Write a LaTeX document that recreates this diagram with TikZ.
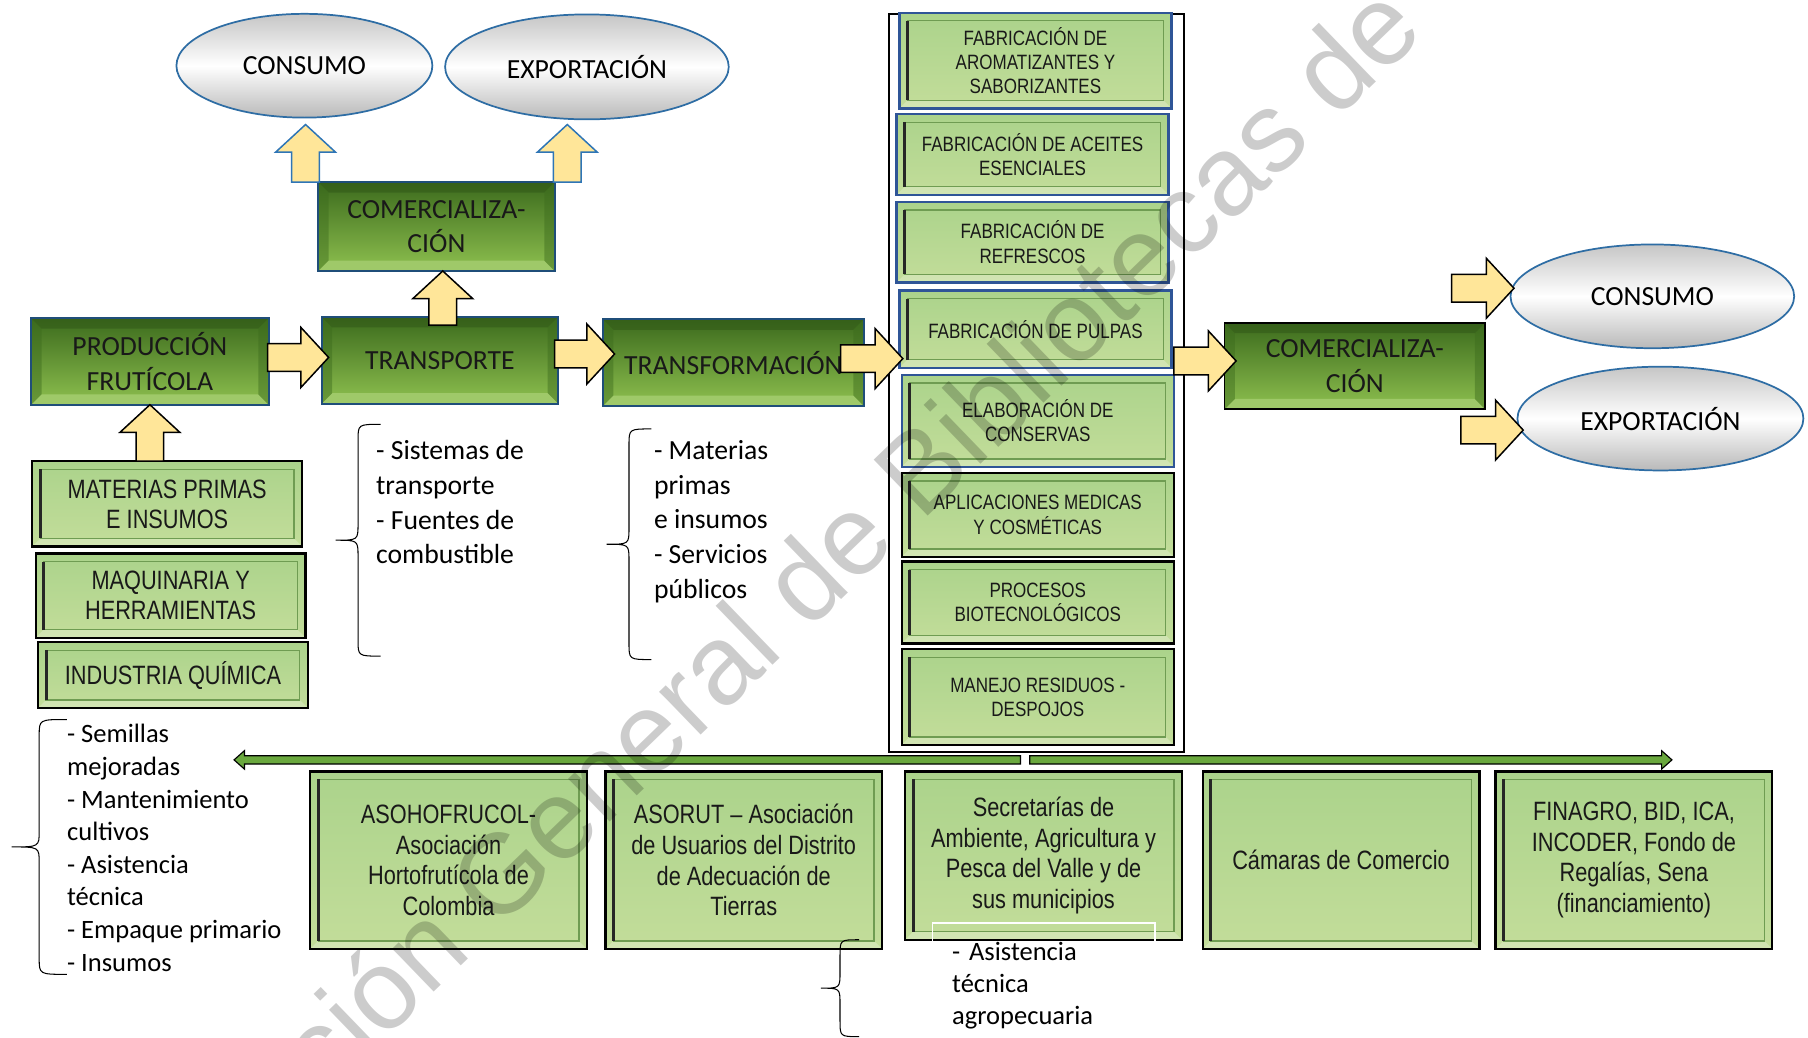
\documentclass[tikz,border=0pt]{standalone}
\usepackage{fontspec}
\setmainfont{Carlito}
\newfontfamily\narrowfont[FakeStretch=0.82]{Liberation Sans}
\newfontfamily\markfont{Liberation Sans}
\usetikzlibrary{backgrounds,calc,positioning,shapes.geometric}

\definecolor{boxblue}{HTML}{1F4E79}
\definecolor{colblue}{HTML}{2F5597}
\definecolor{ovalblue}{HTML}{2E6DA4}
\definecolor{dgtop}{HTML}{3C6B1D}
\definecolor{dgbot}{HTML}{8EC04F}
\definecolor{lgtop}{HTML}{ABD38B}
\definecolor{lgbot}{HTML}{C3DD9A}
\definecolor{lgline}{HTML}{6F9C52}
\definecolor{arrowfill}{HTML}{FFE699}
\definecolor{arrowblue}{HTML}{2E75B6}
\definecolor{bargreen}{HTML}{6AA83E}

\tikzset{%
	darkbevel/.style = {path picture={
		\path (path picture bounding box.south west) coordinate (p1)
		      (path picture bounding box.north east) coordinate (p3);
		\path ([shift={(9pt,9pt)}]p1) coordinate (q1)
		      ([shift={(-9pt,-9pt)}]p3) coordinate (q3);
		\fill[dgtop!80!black, opacity=0.5] (p1 |- p3) -- (p3) -- (q3) -- (q1 |- q3) -- cycle;
		\fill[dgbot!85!white] (p1) -- (p3 |- p1) -- (q3 |- q1) -- (q1) -- cycle;
		\fill[dgtop, opacity=0.45] (p1) -- (q1) -- (q1 |- q3) -- (p1 |- p3) -- cycle;
		\fill[dgtop, opacity=0.45] (p3 |- p1) -- (q3 |- q1) -- (q3) -- (p3) -- cycle;}},
	lightbevel/.style = {path picture={
		\path (path picture bounding box.south west) coordinate (p1)
		      (path picture bounding box.north east) coordinate (p3);
		\path ([shift={(7pt,7pt)}]p1) coordinate (q1)
		      ([shift={(-7pt,-7pt)}]p3) coordinate (q3);
		\fill[white, opacity=0.25] (p1) -- (p3 |- p1) -- (q3 |- q1) -- (q1) -- cycle;
		\draw[lgline, line width=1.2pt] (q1) rectangle (q3);
		\draw[black!85, line width=2.6pt] (q1) -- (q1 |- q3);}},
	darkbox/.style  = {rectangle, draw=#1, line width=1.6pt, outer sep=0pt, top color=dgtop, bottom color=dgbot, minimum height=75pt, inner sep=2pt, align=center, text=black!90, font=\fontsize{24}{30}\selectfont, darkbevel},
	darkbox/.default = boxblue,
	lightbox/.style = {rectangle, draw=#1, line width=2pt, outer sep=0pt, top color=lgtop, bottom color=lgbot, inner sep=2pt, align=center, text=black!90, lightbevel},
	lightbox/.default = black,
	colbox/.style   = {lightbox=#1, minimum width=236pt, font=\narrowfont\fontsize{18}{21}\selectfont},
	colbox/.default = colblue,
	sidebox/.style  = {lightbox, minimum width=234pt, font=\narrowfont\fontsize{23}{26}\selectfont},
	actor/.style    = {lightbox, minimum width=240pt, minimum height=154pt, font=\narrowfont\fontsize{23}{26.5}\selectfont},
	oval/.style     = {ellipse, draw=ovalblue, line width=1.5pt, top color=gray!45, bottom color=gray!55, middle color=white, inner sep=0pt, outer sep=0pt, font=\fontsize{24}{30}\selectfont},
	listtext/.style = {align=left, inner sep=0pt, anchor=north west},
	yarrow/.style   = {fill=arrowfill, draw=#1, line width=1.3pt, /utils/exec={\def\sw{12pt}\def\hw{26pt}\def\hl{24pt}}},
	yarrow/.default = black,
	gbar/.style     = {fill=bargreen, draw=black, line width=1pt, /utils/exec={\def\sw{3.6pt}\def\hw{8pt}\def\hl{9pt}}},
	bracepath/.style = {draw, line width=0.9pt},
	watermark/.style = {font=\markfont\fontsize{98}{98}\selectfont, text=black, text opacity=0.2, inner sep=0pt},
}

% block arrows: start, tip (the tip keeps the start's line)
\newcommand{\harrow}[3][yarrow]{%
	\path[#1] let \p1=#2, \p2=#3, \n1={sign(\x2-\x1)} in
		(\x1,\y1+\sw) -- ({\x2-(\n1)*\hl},\y1+\sw) -- ({\x2-(\n1)*\hl},\y1+\hw) -- (\x2,\y1)
		-- ({\x2-(\n1)*\hl},\y1-\hw) -- ({\x2-(\n1)*\hl},\y1-\sw) -- (\x1,\y1-\sw) -- cycle;}
\newcommand{\varrow}[3][yarrow]{%
	\path[#1] let \p1=#2, \p2=#3, \n1={sign(\y2-\y1)} in
		(\x1+\sw,\y1) -- (\x1+\sw,{\y2-(\n1)*\hl}) -- (\x1+\hw,{\y2-(\n1)*\hl}) -- (\x1,\y2)
		-- (\x1-\hw,{\y2-(\n1)*\hl}) -- (\x1-\sw,{\y2-(\n1)*\hl}) -- (\x1-\sw,\y1) -- cycle;}
% curly brace: hook x, tip x, top y, bottom y
\newcommand{\curlybrace}[4]{%
	\draw[bracepath] let \n1={(#1+#2)/2}, \n2={(#3+#4)/2} in
		(#1,#3) .. controls (\n1,#3) .. (\n1,#3+14) -- (\n1,\n2-14)
		.. controls (\n1,\n2) .. (#2,\n2) .. controls (\n1,\n2) .. (\n1,\n2+14)
		-- (\n1,#4-14) .. controls (\n1,#4) .. (#1,#4);}

\begin{document}
\begin{tikzpicture}[x=1pt, y=-1pt]
	\useasboundingbox (0,0) rectangle (1568,900);

	% main chain
	\node[oval, minimum width=222pt, minimum height=90pt] (cons1) at (264,57) {CONSUMO};
	\node[oval, minimum width=246pt, minimum height=91pt] (expo1) at (509,58) {EXPORTACIÓN};
	\node[darkbox, minimum width=205pt, minimum height=77pt] (com1) at (378.5,196.5) {COMERCIALIZA-\\CIÓN};
	\node[darkbox, minimum width=206pt] (prod) at (130,313.5) {PRODUCCIÓN\\FRUTÍCOLA};
	\node[darkbox, minimum width=205pt] (transp) at (381.5,312.5) {TRANSPORTE};
	\node[darkbox, minimum width=226pt] (transf) at (636,314.5) {TRANSFORMACIÓN};

	% inputs
	\node[sidebox, minimum height=74pt] (mat) at (145,437) {MATERIAS PRIMAS\\E INSUMOS};
	\node[sidebox, minimum height=73pt, below=6pt of mat, xshift=3pt] (maq) {MAQUINARIA Y\\HERRAMIENTAS};
	\node[sidebox, minimum height=57pt, below=4pt of maq, xshift=2pt] (quim) {INDUSTRIA QUÍMICA};

	% products
	\node[colbox, minimum height=83pt] (fab1) at (898,52.5) {FABRICACIÓN DE\\AROMATIZANTES Y\\SABORIZANTES};
	\node[colbox, minimum height=70pt] (fab2) at (895.5,134) {FABRICACIÓN DE ACEITES\\ESENCIALES};
	\node[colbox, minimum height=70pt] (fab3) at (895.5,210) {FABRICACIÓN DE\\REFRESCOS};
	\node[colbox, minimum height=67pt] (fab4) at (898,285.5) {FABRICACIÓN DE PULPAS};
	\node[colbox, minimum height=80pt] (fab5) at (900,365) {ELABORACIÓN DE\\CONSERVAS};
	\node[colbox=black, minimum height=73pt] (apli) at (900,446.5) {APLICACIONES MEDICAS\\Y COSMÉTICAS};
	\node[colbox=black, minimum height=71pt] (proc) at (900,522.5) {PROCESOS\\BIOTECNOLÓGICOS};
	\node[colbox=black, minimum height=83pt] (manejo) at (900,604.5) {MANEJO RESIDUOS -\\DESPOJOS};
	\begin{scope}[on background layer]
		\draw[line width=1.5pt, fill=white] ([shift={(-9pt,-1pt)}]fab1.north west) rectangle ([shift={(9pt,-6pt)}]manejo.south east);
	\end{scope}

	% markets
	\node[darkbox=black, minimum width=226pt] (com2) at (1175,317.5) {COMERCIALIZA-\\CIÓN};
	\node[oval, minimum width=246pt, minimum height=90pt] (cons2) at (1433,257) {CONSUMO};
	\node[oval, minimum width=248pt, minimum height=90pt] (expo2) at (1440,363) {EXPORTACIÓN};

	% actors
	\node[actor] (asoh) at (389,746) {ASOHOFRUCOL-\\Asociación\\Hortofrutícola de\\Colombia};
	\node[actor, right=16pt of asoh] (asor) {ASORUT – Asociación\\de Usuarios del Distrito\\de Adecuación de\\Tierras};
	\node[actor, minimum height=146pt, right=20pt of asor, yshift=4pt] (secr) {Secretarías de\\Ambiente, Agricultura y\\Pesca del Valle y de\\sus municipios};
	\node[actor, right=18pt of secr, yshift=-4pt] (cam) {Cámaras de Comercio};
	\node[actor, right=14pt of cam] (fin) {FINAGRO, BID, ICA,\\INCODER, Fondo de\\Regalías, Sena\\(financiamiento)};

	% lists
	\node[listtext, font=\fontsize{24}{30}\selectfont] (translist) at (326,382) {- Sistemas de\\transporte\\- Fuentes de\\combustible};
	\node[listtext, font=\fontsize{24}{30}\selectfont] (transflist) at (567,382) {- Materias\\primas\\e insumos\\- Servicios\\públicos};
	\node[listtext, font=\fontsize{23}{28.3}\selectfont] (prodlist) at (58,628) {- Semillas\\mejoradas\\- Mantenimiento\\cultivos\\- Asistencia\\técnica\\- Empaque primario\\- Insumos};
	\node[listtext, draw=white, line width=1.5pt, text width=159pt, inner xsep=17pt, inner ysep=16pt, font=\fontsize{23}{28}\selectfont] (asistlist) at (808,800) {- Asistencia\\técnica\\agropecuaria};

	\curlybrace{58}{10}{624}{845}
	\curlybrace{330}{291}{368}{569}
	\curlybrace{565}{526}{372}{572}
	\curlybrace{745}{712}{815}{899}

	% arrows
	\harrow{([xshift=-1pt,yshift=3.5pt]prod.east)}{([xshift=6pt]transp.west)}
	\harrow{([xshift=-3pt,yshift=5.5pt]transp.east)}{([xshift=10pt]transf.west)}
	\harrow{([xshift=-20pt,yshift=3.5pt]transf.east)}{([xshift=3pt]fab4.west)}
	\harrow{($(fab4.east |- com2.west)+(2pt,4.5pt)$)}{([xshift=10pt]com2.west)}
	\harrow{($(cons2.west)+(-51pt,7pt)$)}{([xshift=3pt]cons2.west)}
	\harrow{($(expo2.west)+(-49pt,-10pt)$)}{([xshift=5pt]expo2.west)}
	\varrow{(prod.south |- mat.north)}{(prod.south)}
	\varrow{([xshift=2.5pt,yshift=-7pt]transp.north)}{(com1.south)}
	\varrow[yarrow=arrowblue]{([xshift=-11pt]com1.north west)}{([yshift=-6pt]cons1.south)}
	\varrow[yarrow=arrowblue]{([xshift=11pt]com1.north east)}{([yshift=-4.5pt]expo1.south)}

	\coordinate (barmidL) at (885,659);
	\coordinate (barleft) at (203,659);
	\coordinate (barmidR) at (893,659);
	\coordinate (barright) at (1450,659);
	\harrow[gbar]{(barmidL)}{(barleft)}
	\harrow[gbar]{(barmidR)}{(barright)}

	\begin{scope}
		\clip (0,0) rectangle (1568,900);
		\node[watermark, rotate=44] (wmark) at (735,465) {ción General de Bibliotecas de};
	\end{scope}
\end{tikzpicture}
\end{document}
